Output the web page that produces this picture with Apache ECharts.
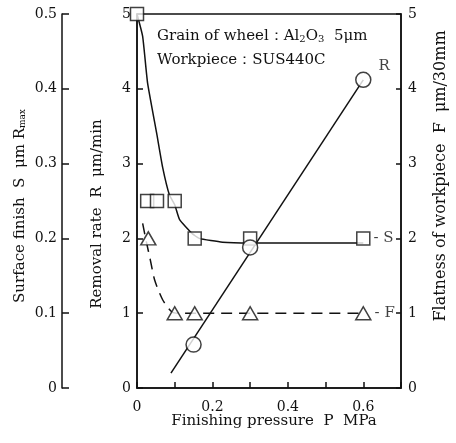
<!DOCTYPE html>
<html>
<head>
<meta charset="utf-8">
<script src="https://cdn.jsdelivr.net/npm/echarts@6/dist/echarts.min.js"></script>
<style>
  html, body { margin: 0; padding: 0; background: #fff; }
  #chart { width: 456px; height: 443px; }
</style>
</head>
<body>
<div id="chart"></div>
<script>
// 数据 (P MPa, value)
var rPoints = [[0.15, 0.58], [0.3, 1.88], [0.6, 4.12]];
var rLine = [[0.09, 0.2], [0.6, 4.12]];
var sPoints = [[0, 0.5], [0.027, 0.25], [0.053, 0.25], [0.1, 0.25], [0.153, 0.2], [0.3, 0.2], [0.6, 0.2]];
var sCurve = [[0, 0.5], [0.015, 0.47], [0.028, 0.408], [0.052, 0.341], [0.068, 0.295], [0.086, 0.258],
  [0.1, 0.245], [0.113, 0.225], [0.145, 0.207], [0.165, 0.2], [0.227, 0.195], [0.3, 0.194], [0.6, 0.194]];
var fPoints = [[0.03, 2.0], [0.1, 1.0], [0.153, 1.0], [0.3, 1.0], [0.6, 1.0]];
var fCurve = [[0.015, 2.2], [0.025, 1.95], [0.035, 1.72], [0.047, 1.44], [0.068, 1.18], [0.092, 1.02],
  [0.11, 1.0], [0.6, 1.0]];

var ink = "#111";
var serif = "DejaVu Serif";

function tickLabel(v) {
  if (v === 0) return "0";
  var k = Math.round(v * 10);
  if (k % 2 === 0 && k < 7) return (k / 10).toFixed(1);
  return "";
}

function titleText(x, y, text, size, rich) {
  return {
    type: "text", x: x, y: y, rotation: Math.PI / 2,
    style: {
      text: text, rich: rich, fontFamily: serif, fontSize: size, fill: ink,
      align: "center", verticalAlign: "middle"
    }
  };
}

var option = {
  backgroundColor: "#fff",
  animation: false,
  textStyle: { fontFamily: serif, color: ink },
  grid: {
    left: 137, right: 55, top: 14, bottom: 55,
    show: true, borderColor: ink, borderWidth: 1.5
  },
  xAxis: {
    type: "value", min: 0, max: 0.7, interval: 0.1,
    axisLine: { lineStyle: { color: ink, width: 1.5 } },
    axisTick: { inside: true, length: 6, lineStyle: { color: ink, width: 1.5 } },
    axisLabel: { formatter: tickLabel, fontFamily: serif, fontSize: 14, color: ink, margin: 12 },
    splitLine: { show: false }
  },
  yAxis: [
    {
      type: "value", position: "left", min: 0, max: 5, interval: 1,
      axisLine: { show: true, lineStyle: { color: ink, width: 1.5 } },
      axisTick: { show: true, inside: true, length: 6, lineStyle: { color: ink, width: 1.5 } },
      axisLabel: { fontFamily: serif, fontSize: 14, color: ink, margin: 6 },
      splitLine: { show: false }
    },
    {
      type: "value", position: "left", offset: 75, min: 0, max: 0.5, interval: 0.1,
      axisLine: { show: true, lineStyle: { color: ink, width: 1.5 } },
      axisTick: { show: true, inside: true, length: 7, lineStyle: { color: ink, width: 1.5 } },
      axisLabel: {
        fontFamily: serif, fontSize: 14, color: ink, margin: 5,
        formatter: function (v) { return v === 0 ? "0" : v.toFixed(1); }
      },
      splitLine: { show: false }
    },
    {
      type: "value", position: "right", min: 0, max: 5, interval: 1,
      axisLine: { show: true, lineStyle: { color: ink, width: 1.5 } },
      axisTick: { show: true, inside: true, length: 5, lineStyle: { color: ink, width: 1.5 } },
      axisLabel: { fontFamily: serif, fontSize: 14, color: ink, margin: 7 },
      splitLine: { show: false }
    }
  ],
  graphic: [
    {
      type: "text", left: 157, top: 29,
      style: {
        text: "{t|Grain of wheel\uff1aAl}{s|2}{t|O}{s|3}{t|  5\u03bcm}",
        rich: {
          t: { fontFamily: serif, fontSize: 15, fill: ink },
          s: { fontFamily: serif, fontSize: 10, fill: ink, padding: [5, 0, 0, 0] }
        }
      }
    },
    {
      type: "text", left: 157, top: 53,
      style: { text: "Workpiece\uff1aSUS440C", fontFamily: serif, fontSize: 15, fill: ink }
    },
    // 轴标题
    titleText(20, 206, "{a|Surface finish  S  \u03bcm R}{s|max}", 15, {
      a: { fontFamily: serif, fontSize: 15, fill: ink },
      s: { fontFamily: serif, fontSize: 9, fill: ink, padding: [6, 0, 0, 0] }
    }),
    titleText(97, 214, "Removal rate  R  \u03bcm/min", 15),
    titleText(441, 176, "Flatness of workpiece  F  \u03bcm/30mm", 16),
    {
      type: "text", x: 274, y: 421,
      style: {
        text: "Finishing pressure  P  MPa", fontFamily: serif, fontSize: 15, fill: ink,
        align: "center", verticalAlign: "middle"
      }
    }
  ],
  series: [
    {
      type: "line", yAxisIndex: 0, data: rLine, symbol: "none",
      lineStyle: { color: ink, width: 1.5 }, z: 2
    },
    {
      type: "scatter", yAxisIndex: 0, data: rPoints, symbol: "circle", symbolSize: 15,
      itemStyle: { color: "#fff", borderColor: ink, borderWidth: 1.5 }, z: 5,
      label: {
        show: true, fontFamily: serif, fontSize: 15, color: ink,
        formatter: function (p) { return p.dataIndex === 2 ? "R" : ""; },
        position: "right", offset: [2, -14]
      }
    },
    {
      type: "line", yAxisIndex: 1, data: sCurve, symbol: "none", smooth: 0.15,
      lineStyle: { color: ink, width: 1.5 }, z: 2
    },
    {
      type: "scatter", yAxisIndex: 1, data: sPoints, symbol: "rect", symbolSize: 13,
      itemStyle: { color: "#fff", borderColor: ink, borderWidth: 1.5 }, z: 4,
      label: {
        show: true, fontFamily: serif, fontSize: 15, color: ink,
        formatter: function (p) { return p.dataIndex === 6 ? "- S" : ""; },
        position: "right", offset: [-2, 0]
      }
    },
    {
      type: "line", yAxisIndex: 2, data: fCurve, symbol: "none", smooth: 0.25,
      lineStyle: { color: ink, width: 1.5, type: [11, 7] }, z: 2
    },
    {
      type: "scatter", yAxisIndex: 2, data: fPoints, symbol: "triangle", symbolSize: [15, 13],
      itemStyle: { color: "#fff", borderColor: ink, borderWidth: 1.5 }, z: 4,
      label: {
        show: true, fontFamily: serif, fontSize: 15, color: ink,
        formatter: function (p) { return p.dataIndex === 4 ? "- F" : ""; },
        position: "right", offset: [-2, 0]
      }
    }
  ]
};

var chart = echarts.init(document.getElementById("chart"));
chart.setOption(option);
</script>
</body>
</html>
